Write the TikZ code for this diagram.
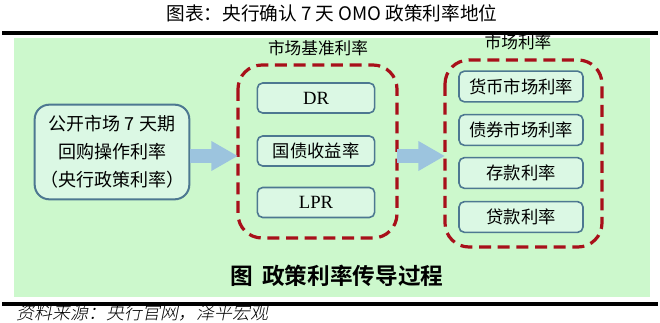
\documentclass[tikz,border=0pt]{standalone}
\usepackage{fontspec}
\setmainfont{Liberation Serif}
\newfontfamily\cjk{Noto Sans CJK SC}
\newfontfamily\cjkb{Noto Sans CJK SC Bold}
\newfontfamily\cjkit[FakeSlant=0.2]{Noto Sans CJK SC Light}
\usepackage{tikz}
\usetikzlibrary{arrows.meta,positioning}
\definecolor{cbg}{HTML}{CCF8CC}
\definecolor{cbox}{HTML}{DBF8E4}
\definecolor{cboxD}{HTML}{4D7891}
\definecolor{cred}{HTML}{A8101A}
\definecolor{carrow}{HTML}{9CC4DE}
\tikzset{
  rbox/.style={draw=cboxD, fill=cbox, line width=1.2pt, rounded corners=4pt,
               align=center, inner sep=0pt, font=\cjk\fontsize{13}{15}\selectfont},
  sbox/.style={rbox, minimum width=93pt, minimum height=23pt},
  mbox/.style={rbox, minimum width=88pt, minimum height=22.5pt},
  group/.style={draw=cred, line width=2.4pt, dash pattern=on 9pt off 5pt,
                rounded corners=18pt},
  glabel/.style={font=\cjk\fontsize{12.5}{14}\selectfont, inner sep=1pt},
  flow/.style={draw=carrow, line width=10pt,
               -{Triangle[length=20pt,width=21pt]}},
}
\begin{document}
\begin{tikzpicture}[x=0.75pt, y=-0.75pt]
  \useasboundingbox (0,0) rectangle (660,323);
  % title and rules
  \node[font=\cjk\fontsize{14}{16}\selectfont] (title) at (332,13)
    {图表：央行确认 7 天 OMO 政策利率地位};
  \fill[cbg] (14,38) rectangle (650,297);
  \draw[line width=2.4pt] (2,33) -- (658,33);
  \draw[line width=2.4pt] (2,304) -- (658,304);
  % policy rate
  \node[draw=cboxD, fill=cbox, line width=1.5pt, rounded corners=11pt,
        minimum width=116pt, minimum height=71pt, align=center,
        font=\cjk\fontsize{13.5}{21}\selectfont] (omo) at (112,152)
    {公开市场 7 天期\\回购操作利率\\（央行政策利率）};
  % benchmark rates
  \draw[group] (238,65) rectangle (397,238);
  \node[glabel] (lbench) at (318,48) {市场基准利率};
  \node[mbox, font=\fontsize{14}{16}\selectfont] (dr) at (316,98) {DR};
  \node[mbox] (gz) at (316,151) {国债收益率};
  \node[mbox, font=\fontsize{14}{16}\selectfont] (lpr) at (316,202.5) {LPR};
  \coordinate (bench-w) at (238,156);
  \coordinate (bench-e) at (397,156);
  % market rates
  \draw[group] (445,60) rectangle (602,247);
  \node[glabel] (lmkt) at (518,42) {市场利率};
  \node[sbox] (hb) at (521,86.5) {货币市场利率};
  \node[sbox] (zq) at (521,130) {债券市场利率};
  \node[sbox] (ck) at (521,173) {存款利率};
  \node[sbox] (dk) at (521,217) {贷款利率};
  \coordinate (mkt-w) at (445,156);
  % arrows
  \draw[flow] (omo.east |- bench-w) -- (bench-w);
  \draw[flow] (bench-e) -- (mkt-w);
  % captions
  \node[font=\cjkb\fontsize{17}{19}\selectfont] (cap) at (337,276)
    {图\hspace{0.4em}政策利率传导过程};
  \node[anchor=west, font=\cjkit\fontsize{13.5}{15}\selectfont] (src) at (12,313)
    {资料来源：央行官网，泽平宏观};
\end{tikzpicture}
\end{document}
